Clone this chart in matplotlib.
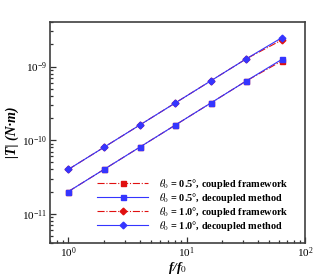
import numpy as np
import matplotlib
matplotlib.use('Agg')
import matplotlib.pyplot as plt
from matplotlib.ticker import LogLocator, NullFormatter

plt.rcParams['font.family'] = ['Liberation Serif', 'DejaVu Serif']
plt.rcParams['mathtext.fontset'] = 'stix'

# data
f_ratio = [1, 2, 4, 8, 16, 32, 64]
T_coupled_05 = [2.0e-11, 4.0e-11, 8.0e-11, 1.6e-10, 3.2e-10, 6.4e-10, 1.20e-9]
T_decoupled_05 = [2.0e-11, 4.0e-11, 8.0e-11, 1.6e-10, 3.2e-10, 6.4e-10, 1.26e-9]
T_coupled_10 = [4.0e-11, 8.0e-11, 1.6e-10, 3.2e-10, 6.4e-10, 1.28e-9, 2.31e-9]
T_decoupled_10 = [4.0e-11, 8.0e-11, 1.6e-10, 3.2e-10, 6.4e-10, 1.28e-9, 2.48e-9]

labels = [r'$\theta_0$ = 0.5°, coupled framework',
          r'$\theta_0$ = 0.5°, decoupled method',
          r'$\theta_0$ = 1.0°, coupled framework',
          r'$\theta_0$ = 1.0°, decoupled method']

red = '#e01010'
blue = '#3535ff'

fig = plt.figure(figsize=(3.32, 2.8), dpi=100)
ax = fig.add_axes([50/332, 1-243/280, 255/332, (243-22.3)/280])

ax.plot(f_ratio, T_coupled_05, color=red, ls='-.', lw=0.8, marker='s', ms=3.6, label=labels[0])
ax.plot(f_ratio, T_decoupled_05, color=blue, ls='-', lw=0.8, marker='s', ms=3.6, label=labels[1])
ax.plot(f_ratio, T_coupled_10, color=red, ls='-.', lw=0.8, marker='D', ms=3.4, label=labels[2])
ax.plot(f_ratio, T_decoupled_10, color=blue, ls='-', lw=0.8, marker='D', ms=3.4, label=labels[3])

ax.set_xscale('log')
ax.set_yscale('log')
ax.set_xlim(0.7, 100)
ax.set_ylim(4e-12, 4e-9)

ax.xaxis.set_minor_locator(LogLocator(base=10, subs=np.arange(2, 10)))
ax.yaxis.set_minor_locator(LogLocator(base=10, subs=np.arange(2, 10)))
ax.xaxis.set_minor_formatter(NullFormatter())
ax.yaxis.set_minor_formatter(NullFormatter())

ax.tick_params(which='both', direction='in', top=False, right=False,
               color='#303030', width=0.9, labelsize=8, pad=2)
ax.tick_params(which='major', length=4.3)
ax.tick_params(which='minor', length=2.2)
for s in ax.spines.values():
    s.set_color('#404040')
    s.set_linewidth(1.2)

ax.set_xlabel('f/f$_0$', fontsize=9.5, fontstyle='italic', fontweight='bold', labelpad=0)
ax.set_ylabel('|T| (N·m)', fontsize=10, fontstyle='italic', fontweight='bold', labelpad=2)

leg = ax.legend(loc='upper left', bbox_to_anchor=(97/332, 1-177/280),
                bbox_transform=fig.transFigure, frameon=False,
                prop={'size': 7.4, 'weight': 'bold'}, handlelength=5.0,
                handletextpad=1.0, labelspacing=0.0, borderpad=0, borderaxespad=0)

fig.savefig('out.png', dpi=100)
